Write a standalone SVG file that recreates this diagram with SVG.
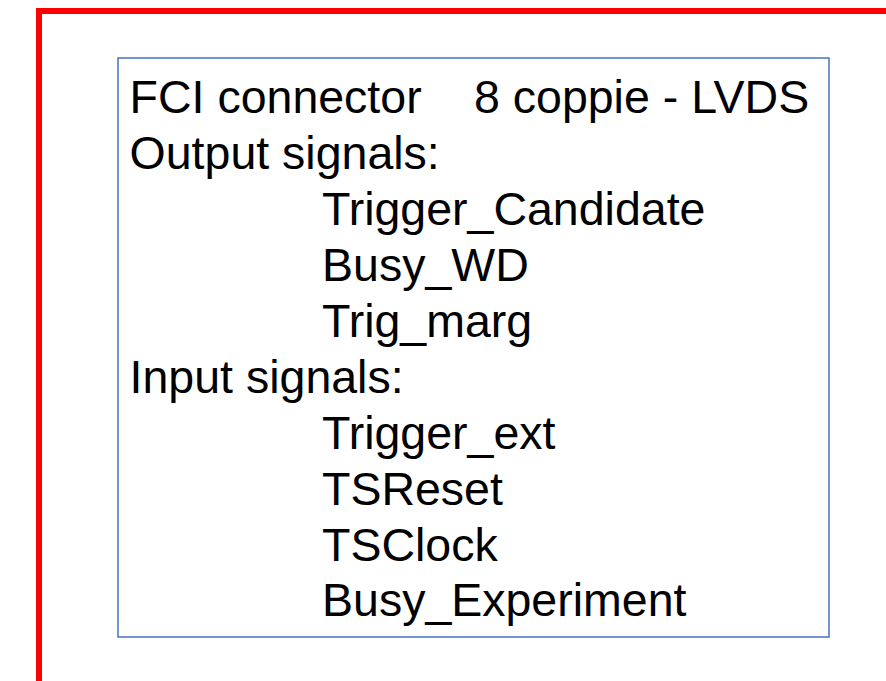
<svg xmlns="http://www.w3.org/2000/svg" width="886" height="681" viewBox="0 0 886 681">
<style>
.frame{fill:none;stroke:#FF0000;stroke-width:6}
.box{fill:#FFFFFF;stroke:#4472C4;stroke-width:1.5}
.t{font-family:"Liberation Sans",Arial,sans-serif;font-size:46.5px;fill:#000000}
</style>
<rect width="886" height="681" fill="#FFFFFF"/>
<g id="frame">
<path class="frame" d="M39,681 V11 H886"/>
</g>
<g id="fci-box">
<rect class="box" x="118" y="58" width="711" height="579"/>
<text class="t" x="129.6" y="113.3">FCI connector</text>
<text class="t" x="474" y="113.3">8 coppie - LVDS</text>
<text class="t" x="129.6" y="169.2">Output signals:</text>
<text class="t" x="322" y="225.1">Trigger_Candidate</text>
<text class="t" x="322" y="281">Busy_WD</text>
<text class="t" x="322" y="336.9">Trig_marg</text>
<text class="t" x="129.6" y="392.8">Input signals:</text>
<text class="t" x="322" y="448.7">Trigger_ext</text>
<text class="t" x="322" y="504.6">TSReset</text>
<text class="t" x="322" y="560.5">TSClock</text>
<text class="t" x="322" y="616.4">Busy_Experiment</text>
</g>
</svg>
